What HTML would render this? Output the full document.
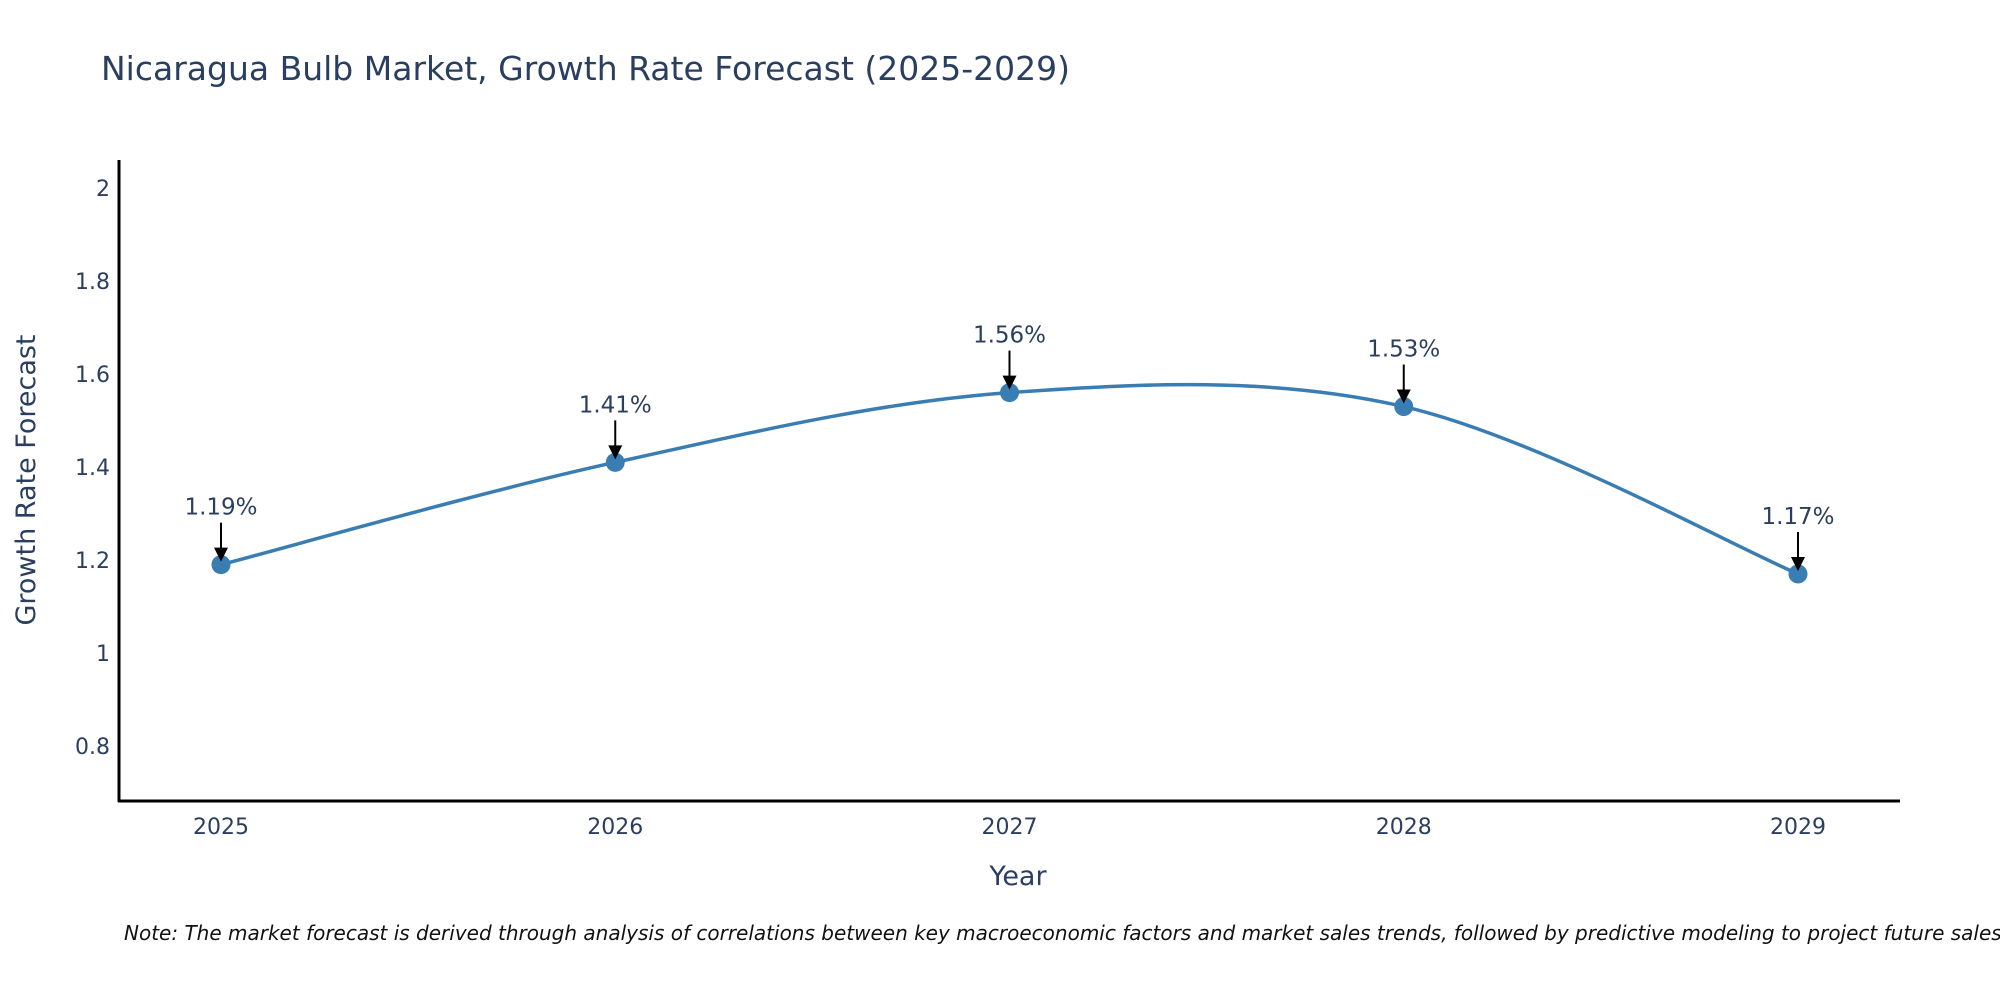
<!DOCTYPE html>
<html><head><meta charset="utf-8"><style>
body{margin:0;background:#fff;}
svg{display:block;font-family:"DejaVu Sans","Liberation Sans",sans-serif;}
</style></head><body>
<svg id="chart" width="2000" height="1000">
<text x="101" y="80" font-size="33" fill="#2a3f5f">Nicaragua Bulb Market, Growth Rate Forecast (2025-2029)</text>
<g id="yticks"></g>
<g id="xticks"></g>
<path id="line" fill="none" stroke="#3a7db2" stroke-width="3.5"></path>
<g id="marks"></g>
<g id="annots"></g>
<line x1="119" y1="160" x2="119" y2="802" stroke="#000" stroke-width="3"/>
<line x1="118" y1="801" x2="1900" y2="801" stroke="#000" stroke-width="3"/>
<text transform="translate(35,480) rotate(-90)" text-anchor="middle" font-size="27" fill="#2a3f5f">Growth Rate Forecast</text>
<text x="1018" y="885" text-anchor="middle" font-size="27" fill="#2a3f5f">Year</text>
<text x="124" y="940" font-size="20" font-style="italic" fill="#111">Note: The market forecast is derived through analysis of correlations between key macroeconomic factors and market sales trends, followed by predictive modeling to project future sales.</text>
</svg>
<script>
const years=[2025,2026,2027,2028,2029];
const values=[1.19,1.41,1.56,1.53,1.17];
const labels=["1.19%","1.41%","1.56%","1.53%","1.17%"];
const yTicks=[0.8,1,1.2,1.4,1.6,1.8,2];
const NS="http://www.w3.org/2000/svg";
function xS(v){return 221+(v-2025)*394.25;}
function yS(v){return 560-(v-1.2)*465;}
function mk(t,a,p){const e=document.createElementNS(NS,t);for(const k in a)e.setAttribute(k,a[k]);p.appendChild(e);return e;}
const yt=document.getElementById('yticks');
yTicks.forEach(v=>{const t=mk('text',{x:110,y:yS(v)+8,'text-anchor':'end','font-size':22,fill:'#2a3f5f'},yt);


t.textContent=String(v);});
const xt=document.getElementById('xticks');
years.forEach(v=>{const t=mk('text',{x:xS(v),y:834,'text-anchor':'middle','font-size':22,fill:'#2a3f5f'},xt);


t.textContent=String(v);});
const P=years.map((y,i)=>[xS(y),yS(values[i])]);
const s=1.0/6;
let d='M'+P[0][0]+','+P[0][1];
for(let i=0;i<P.length-1;i++){
 const p0=P[i-1]||P[i],p1=P[i],p2=P[i+1],p3=P[i+2]||P[i+1];
 const c1=[p1[0]+(p2[0]-p0[0])*s,p1[1]+(p2[1]-p0[1])*s];
 const c2=[p2[0]-(p3[0]-p1[0])*s,p2[1]-(p3[1]-p1[1])*s];
 d+=' C'+c1[0]+','+c1[1]+' '+c2[0]+','+c2[1]+' '+p2[0]+','+p2[1];
}
document.getElementById('line').setAttribute('d',d);
const mg=document.getElementById('marks'),ag=document.getElementById('annots');
P.forEach((p,i)=>{
 const c=mk('circle',{cx:p[0],cy:p[1],r:9.5,fill:'#3a7db2'},mg);
 
 
 const l=mk('line',{x1:p[0],y1:p[1]-42,x2:p[0],y2:p[1]-14,stroke:'#000','stroke-width':2},ag);
 
 
 const h=mk('polygon',{points:(p[0]-7)+','+(p[1]-17)+' '+(p[0]+7)+','+(p[1]-17)+' '+p[0]+','+(p[1]-3),fill:'#000'},ag);
 
 
 const t=mk('text',{x:p[0],y:p[1]-50,'text-anchor':'middle','font-size':23,fill:'#2a3f5f'},ag);
 
 
 t.textContent=labels[i];
});
</script>
</body></html>
